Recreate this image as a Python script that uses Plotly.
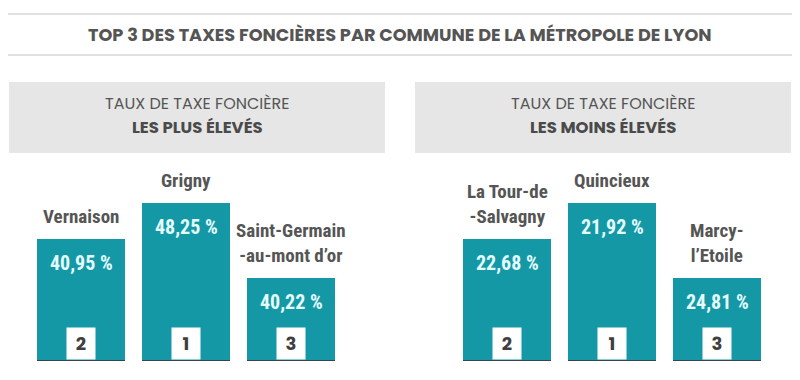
import plotly.graph_objects as go

# ---------------- data ----------------
main_title = "TOP 3 DES TAXES FONCIÈRES PAR COMMUNE DE LA MÉTROPOLE DE LYON"
panel_heading = "TAUX DE TAXE FONCIÈRE"
panel_titles = ["LES PLUS ÉLEVÉS", "LES MOINS ÉLEVÉS"]

high_communes = ["Vernaison", "Grigny", "Saint-Germain<br>-au-mont d’or"]
high_rates = [40.95, 48.25, 40.22]
high_ranks = [2, 1, 3]

low_communes = ["La Tour-de<br>-Salvagny", "Quincieux", "Marcy-<br>l’Etoile"]
low_rates = [22.68, 21.92, 24.81]
low_ranks = [2, 1, 3]

# podium height (relative) for each rank
podium_level = {1: 1.0, 2: 0.775, 3: 0.525}

# ---------------- styling ----------------
W, H = 800, 380
BAR = "#1598a6"
EDGE = "#34454b"
VAL = "#e4fdff"
DARK = "#555555"
COND = "Roboto Condensed, Liberation Sans Narrow, DejaVu Sans Condensed, Roboto, sans-serif"
GEO = "Poppins, Inter, Open Sans, sans-serif"


def px(x):
    return x / W


def py(y):
    return 1 - y / H


fig = go.Figure()

panels = [
    (high_communes, high_rates, high_ranks, "x", "y"),
    (low_communes, low_rates, low_ranks, "x2", "y2"),
]

annotations = []
shapes = []
BW = 0.838

for communes, rates, ranks, xa, ya in panels:
    heights = [podium_level[r] for r in ranks]
    xs = list(range(len(communes)))
    fig.add_trace(go.Bar(
        x=xs, y=heights, width=BW, marker=dict(color=BAR, line=dict(width=0)),
        xaxis=xa, yaxis=ya, hoverinfo="skip", showlegend=False,
    ))
    for i, (name, rate, rank, h) in enumerate(zip(communes, rates, ranks, heights)):
        annotations.append(dict(
            x=i, y=h, xref=xa, yref=ya, text=name, showarrow=False,
            xanchor="center", yanchor="bottom", yshift=9, align="center",
            font=dict(family=COND, size=19, color=DARK, weight="bold"),
        ))
        annotations.append(dict(
            x=i, y=h, xref=xa, yref=ya,
            text=f"{rate:.2f} %".replace(".", ","), showarrow=False,
            xanchor="center", yanchor="top", yshift=-10,
            font=dict(family=COND, size=20, color=VAL, weight="bold"),
        ))
        annotations.append(dict(
            x=i, y=0, xref=xa, yref=ya, text=str(rank), showarrow=False,
            xanchor="center", yanchor="bottom", yshift=1, width=28, height=31,
            borderpad=0, bgcolor="white",
            font=dict(family=GEO, size=18, color="#3f3f3f", weight="bold"),
        ))
        shapes.append(dict(
            type="line", xref=xa, yref=ya, x0=i - BW / 2, x1=i + BW / 2,
            y0=0, y1=0, line=dict(color=EDGE, width=2), layer="above",
        ))

# title lines
for yy in (14, 55):
    shapes.append(dict(type="line", xref="paper", yref="paper",
                       x0=px(8), x1=px(792), y0=py(yy), y1=py(yy),
                       line=dict(color="#d6d6d6", width=1.5)))
annotations.append(dict(
    x=0.5, y=py(35), xref="paper", yref="paper", text=main_title,
    showarrow=False, xanchor="center", yanchor="middle",
    font=dict(family=GEO, size=17.7, color=DARK, weight="bold"),
))

# panel header boxes
for (x0, x1), sub in zip([(9, 385), (415, 791)], panel_titles):
    shapes.append(dict(type="rect", xref="paper", yref="paper",
                       x0=px(x0), x1=px(x1), y0=py(153), y1=py(82),
                       fillcolor="#e6e6e6", line=dict(width=0), layer="below"))
    cx = px((x0 + x1) / 2)
    annotations.append(dict(
        x=cx, y=py(104), xref="paper", yref="paper", text=panel_heading,
        showarrow=False, xanchor="center", yanchor="middle", borderpad=0,
        font=dict(family=GEO, size=16, color=DARK, weight="normal"),
    ))
    annotations.append(dict(
        x=cx, y=py(127), xref="paper", yref="paper", text=sub,
        showarrow=False, xanchor="center", yanchor="middle", borderpad=0,
        font=dict(family=GEO, size=16.5, color="#4a4a4a", weight="bold"),
    ))

axis_common = dict(visible=False, fixedrange=True)
fig.update_layout(
    width=W, height=H,
    margin=dict(l=0, r=0, t=0, b=0),
    paper_bgcolor="white", plot_bgcolor="rgba(0,0,0,0)",
    xaxis=dict(domain=[px(28.5), px(343.5)], range=[-0.5, 2.5], anchor="y", **axis_common),
    yaxis=dict(domain=[py(361), py(203)], range=[0, 1], anchor="x", **axis_common),
    xaxis2=dict(domain=[px(454.5), px(769.5)], range=[-0.5, 2.5], anchor="y2", **axis_common),
    yaxis2=dict(domain=[py(361), py(203)], range=[0, 1], anchor="x2", **axis_common),
    annotations=annotations,
    shapes=shapes,
    bargap=0,
)

fig.write_html(
    "out.html",
    config={"displayModeBar": False, "staticPlot": True},
    post_script="document.body.style.margin='0';document.body.style.padding='0';",
)
